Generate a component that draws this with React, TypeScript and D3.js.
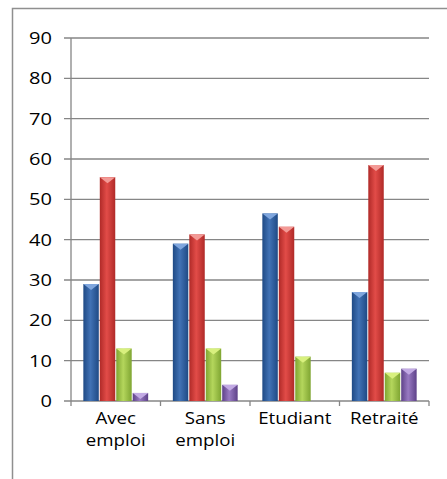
import React from "react";
import * as d3 from "d3";

const categories = ["Avec emploi", "Sans emploi", "Etudiant", "Retraité"];
const categoryLines = [["Avec", "emploi"], ["Sans", "emploi"], ["Etudiant"], ["Retraité"]];
const seriesNames = ["S1", "S2", "S3", "S4"];
const s1 = [29, 39, 46.5, 27];
const s2 = [55.5, 41.3, 43.2, 58.5];
const s3 = [13, 13, 11, 7];
const s4 = [2, 4, 0, 8];
const seriesValues = [s1, s2, s3, s4];
const yTicks = [0, 10, 20, 30, 40, 50, 60, 70, 80, 90];

const palette = [
  { dark: "#1F4A85", mid: "#4172B5", top: "#7FA6DE" },
  { dark: "#B02A28", mid: "#E24C48", top: "#F39A96" },
  { dark: "#7FA532", mid: "#B4D65C", top: "#D8F07E" },
  { dark: "#5E4289", mid: "#987AC2", top: "#C2AAE4" },
];

export default function App() {
  const W = 447, H = 479;
  const left = 71, right = 429, top = 38, bottom = 401;
  const y = d3.scaleLinear().domain([0, 90]).range([bottom, top]);
  const x = d3.scaleBand().domain(categories).range([left, right]).paddingInner(0).paddingOuter(0);
  const xs = d3.scaleBand().domain(seriesNames).range([0, x.bandwidth()]).paddingInner(0).paddingOuter(0.72);
  const font = "'Open Sans', sans-serif";

  return (
    <svg width={W} height={H} style={{ display: "block", position: "absolute", left: 0, top: 0 }}>
      <defs>
        {palette.map((p, i) => (
          <linearGradient key={i} id={`g${i}`} x1="0" x2="1" y1="0" y2="0">
            <stop offset="0" stopColor={p.dark} />
            <stop offset="0.45" stopColor={p.mid} />
            <stop offset="1" stopColor={p.dark} />
          </linearGradient>
        ))}
      </defs>
      <rect x={0} y={0} width={W} height={H} fill="#fff" />
      <rect x={12.5} y={8.5} width={600} height={600} fill="none" stroke="#8f8f8f" strokeWidth={1.5} />
      {yTicks.map((t) => (
        <g key={t}>
          <line x1={64} x2={right} y1={y(t)} y2={y(t)} stroke="#868686" strokeWidth={1.3} />
          <text transform={`translate(52,${y(t)}) scale(1.18,1)`} dy="0.36em" textAnchor="end" fontFamily={font} fontSize={17} fill="#000">{t}</text>
        </g>
      ))}
      <line x1={left} x2={left} y1={top} y2={bottom} stroke="#868686" strokeWidth={1.3} />
      {[...categories.map((c) => x(c)!), right].map((v, i) => (
        <line key={i} x1={v} x2={v} y1={bottom} y2={bottom + 5} stroke="#868686" strokeWidth={1.3} />
      ))}
      {categories.map((c, ci) => (
        <g key={c}>
          {seriesValues.map((vals, si) => {
            const v = vals[ci];
            if (v <= 0) return null;
            const bx = x(c)! + xs(seriesNames[si])! + 0.5;
            const bw = xs.bandwidth() - 1;
            const by = y(v);
            const p = palette[si];
            return (
              <g key={si}>
                <rect x={bx} y={by} width={bw} height={bottom - by} fill={`url(#g${si})`} />
                <polygon points={`${bx},${by} ${bx + bw},${by} ${bx + bw / 2},${by + Math.min(6, bottom - by)}`} fill={p.top} />
              </g>
            );
          })}
          {categoryLines[ci].map((ln, li) => (
            <text key={li} transform={`translate(${x(c)! + x.bandwidth() / 2},${bottom + 23 + li * 22}) scale(1.1,1)`} textAnchor="middle" fontFamily={font} fontSize={17} fill="#000">{ln}</text>
          ))}
        </g>
      ))}
    </svg>
  );
}
